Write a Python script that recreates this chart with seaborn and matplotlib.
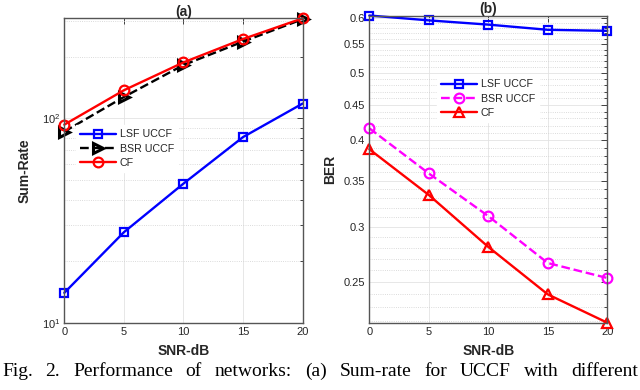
import matplotlib
matplotlib.use("Agg")
import matplotlib.pyplot as plt
import matplotlib.ticker as mticker
import seaborn as sns
import numpy as np

# ---- data ----
snr_db = [0, 5, 10, 15, 20]
series_names = ["LSF UCCF", "BSR UCCF", "CF"]

# (a) sum-rate (log axis)
rate_lsf = [14.0, 27.7, 47.9, 80.9, 118.0]
rate_bsr = [86.0, 127.0, 182.0, 237.0, 305.0]
rate_cf = [93.0, 137.0, 187.5, 244.0, 308.0]

# (b) BER (log axis)
ber_lsf = [0.605, 0.5953, 0.587, 0.577, 0.575]
ber_bsr = [0.4163, 0.3584, 0.3111, 0.2663, 0.2534]
ber_cf = [0.3884, 0.3337, 0.2809, 0.240, 0.2185]
ber_ticks = [0.25, 0.3, 0.35, 0.4, 0.45, 0.5, 0.55, 0.6]
ber_tick_labels = ["0.25", "0.3", "0.35", "0.4", "0.45", "0.5", "0.55", "0.6"]
snr_ticks = [0, 5, 10, 15, 20]

caption = "Fig. 2.   Performance of networks: (a) Sum-rate for UCCF with different"

sns.set_style("white")
plt.rcParams["font.family"] = ["Liberation Sans", "DejaVu Sans"]
plt.rcParams["mathtext.fontset"] = "custom"
plt.rcParams["mathtext.rm"] = "Liberation Sans"
plt.rcParams["mathtext.it"] = "Liberation Sans"

W, H = 640, 390
fig = plt.figure(figsize=(W / 100, H / 100), dpi=100)
fig.patch.set_facecolor("white")


def px_axes(x0, y0, x1, y1):
    return fig.add_axes([x0 / W, 1 - y1 / H, (x1 - x0) / W, (y1 - y0) / H])


ax_a = px_axes(64.3, 18.3, 302.7, 322.7)
ax_b = px_axes(369.3, 15.5, 607.3, 322.7)

spine_col = "#555555"
text_col = "#262626"


def style_axes(ax):
    ax.set_facecolor("white")
    for s in ax.spines.values():
        s.set_color(spine_col)
        s.set_linewidth(1.0)
    ax.tick_params(which="both", direction="in", top=True, right=True,
                   colors=text_col, labelsize=8, width=0.6)
    ax.tick_params(which="major", length=4, pad=3)
    ax.tick_params(which="minor", length=2)
    ax.set_axisbelow(True)
    ax.grid(which="major", color="#e3e3e3", linestyle="-", linewidth=0.6)
    ax.grid(which="minor", axis="y", color="#cfcfcf", linestyle=":", linewidth=0.6)
    ax.set_xlim(snr_ticks[0], snr_ticks[-1])
    ax.xaxis.set_major_locator(mticker.FixedLocator(snr_ticks))
    ax.xaxis.set_minor_locator(mticker.NullLocator())
    ax.set_xlabel("SNR-dB", fontsize=10, fontweight="bold", color=text_col, labelpad=5)


def draw(ax, y, color, marker, ls, label, ms, mew=1.6):
    sns.lineplot(x=snr_db, y=y, ax=ax, color=color, marker=marker, linestyle=ls,
                 linewidth=1.7, markersize=ms, markerfacecolor="none",
                 markeredgecolor=color, markeredgewidth=mew, label=label,
                 legend=False, clip_on=False)


# ---- (a) sum-rate ----
ax_a.set_yscale("log")
draw(ax_a, rate_lsf, "#0000ff", "s", "-", series_names[0], 6)
draw(ax_a, rate_bsr, "#000000", ">", "--", series_names[1], 7, mew=2.2)
draw(ax_a, rate_cf, "#ff0000", "o", "-", series_names[2], 7)
style_axes(ax_a)
ax_a.set_ylim(10, max(rate_cf))
ax_a.yaxis.set_minor_formatter(mticker.NullFormatter())
ax_a.set_ylabel("Sum-Rate", fontsize=10, fontweight="bold", color=text_col, labelpad=7)
ax_a.set_title("(a)", fontsize=10, fontweight="bold", color=text_col, pad=2)
ax_a.legend(loc="upper left", bbox_to_anchor=(76 / W, 1 - 125 / H),
            bbox_transform=fig.transFigure, borderaxespad=0, fontsize=7.7,
            frameon=True, facecolor="white", edgecolor="white", framealpha=1,
            fancybox=False, handlelength=3.3, handletextpad=0.4,
            labelspacing=0.4, borderpad=0.4)

# ---- (b) BER ----
ax_b.set_yscale("log")
draw(ax_b, ber_lsf, "#0000ff", "s", "-", series_names[0], 6)
draw(ax_b, ber_bsr, "#ff00ff", "o", "--", series_names[1], 7)
draw(ax_b, ber_cf, "#ff0000", "^", "-", series_names[2], 7)
style_axes(ax_b)
ax_b.set_ylim(min(ber_cf), max(ber_lsf))
ax_b.yaxis.set_major_locator(mticker.FixedLocator(ber_ticks))
ax_b.yaxis.set_major_formatter(mticker.FixedFormatter(ber_tick_labels))
minor_b = [round(v, 2) for v in np.arange(0.22, 0.61, 0.01)
           if all(abs(v - t) > 1e-6 for t in ber_ticks)]
ax_b.yaxis.set_minor_locator(mticker.FixedLocator(minor_b))
ax_b.yaxis.set_minor_formatter(mticker.NullFormatter())
ax_b.set_ylabel("BER", fontsize=10, fontweight="bold", color=text_col, labelpad=5)
ax_b.set_title("(b)", fontsize=10, fontweight="bold", color=text_col, pad=2)
ax_b.legend(loc="upper left", bbox_to_anchor=(437 / W, 1 - 75 / H),
            bbox_transform=fig.transFigure, borderaxespad=0, fontsize=7.7,
            frameon=True, facecolor="white", edgecolor="white", framealpha=1,
            fancybox=False, handlelength=3.3, handletextpad=0.4,
            labelspacing=0.4, borderpad=0.4)

# ---- justified caption line ----
words = caption.replace("Fig. 2.", "Fig.\u00a02.").split()
renderer = fig.canvas.get_renderer()
texts = [fig.text(0, 1 - 376 / H, w.replace("\u00a0", " "), fontsize=14,
                  family="Liberation Serif", va="baseline", ha="left", color="black")
         for w in words]
widths = [t.get_window_extent(renderer).width for t in texts]
x_left, x_right = 2, 638
gap = (x_right - x_left - sum(widths)) / (len(words) - 1)
x = x_left
for t, w in zip(texts, widths):
    t.set_x(x / W)
    x += w + gap

fig.savefig("out.png", dpi=100, facecolor="white")
